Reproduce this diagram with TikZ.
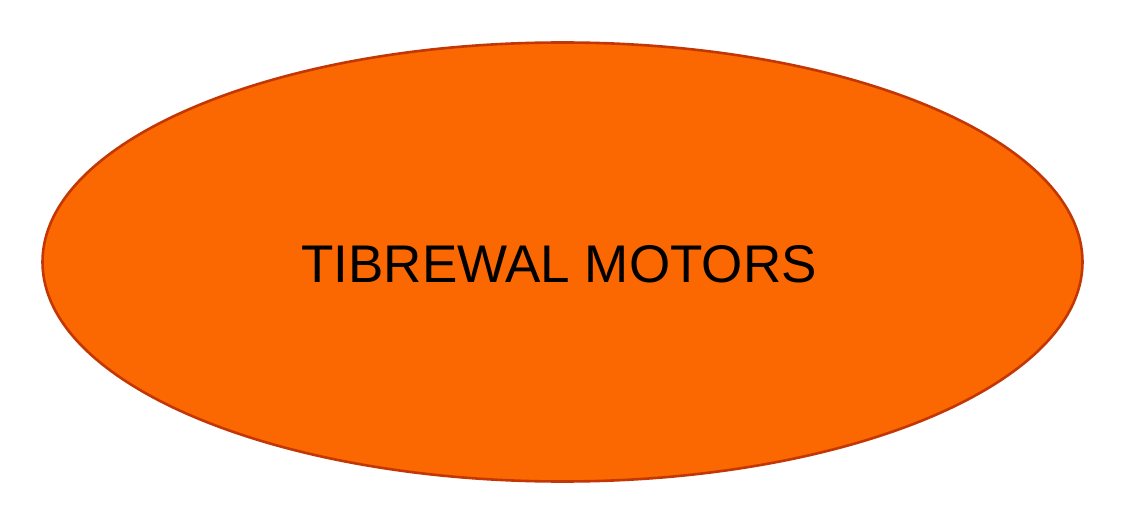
\documentclass[tikz,border=0pt]{standalone}
\usepackage{fontspec}
\setmainfont{Liberation Sans}
\usetikzlibrary{shapes.geometric}
\definecolor{fillor}{RGB}{251,103,0}
\definecolor{edgeor}{RGB}{195,55,5}
\tikzset{oval/.style={ellipse, draw=edgeor, line width=2.6pt, fill=fillor, minimum width=1040pt, minimum height=439pt, inner sep=0pt, font=\fontsize{53}{60}\selectfont}}
\begin{document}
\begin{tikzpicture}[x=1pt,y=1pt]
\useasboundingbox (0,0) rectangle (1124,528);
\node[oval] (m) at (562.5,266) {};
\node[font=\fontsize{53}{60}\selectfont, inner sep=0pt] (t) at (559,264) {TIBREWAL MOTORS};
\end{tikzpicture}
\end{document}
